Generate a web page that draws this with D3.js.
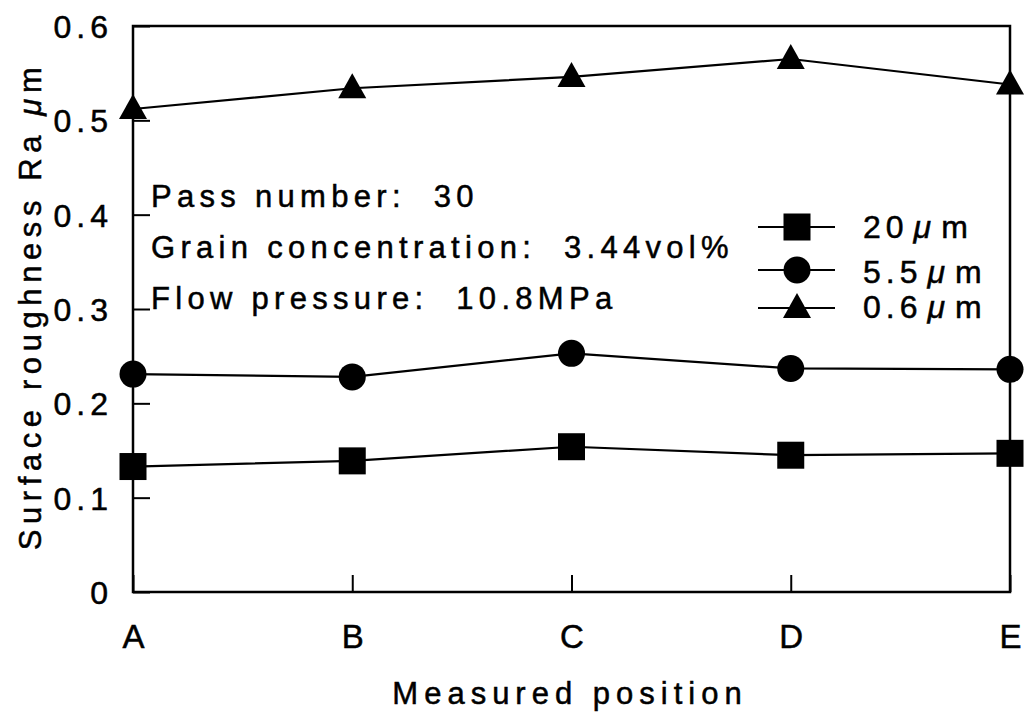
<!DOCTYPE html>
<html><head><meta charset="utf-8">
<script src="https://cdn.jsdelivr.net/npm/d3@7"></script>
<style>body{margin:0;background:#fff}svg{display:block}text{font-family:"Liberation Sans",Arial,sans-serif;fill:#000;white-space:pre;stroke:#000;stroke-width:0.5px}</style>
</head><body><svg id="c" width="1033" height="714"></svg>
<script>
const positions = ["A","B","C","D","E"];
const yTicks = [0,0.1,0.2,0.3,0.4,0.5,0.6];
const yTickLabels = ["0","0.1","0.2","0.3","0.4","0.5","0.6"];
const s20 = [0.133,0.139,0.154,0.145,0.147];
const s55 = [0.231,0.228,0.253,0.237,0.236];
const s06 = [0.512,0.534,0.546,0.565,0.538];
const seriesNames = ["20","5.5","0.6"];
const notes = ["Pass number:  30","Grain concentration:  3.44vol%","Flow pressure:  10.8MPa"];

const FONT = "Liberation Sans, Arial, sans-serif";
const svg = d3.select("#c");
const L=133,R=1010,T=26,B=592;
const x = d3.scalePoint().domain(positions).range([L,R]);
const y = d3.scaleLinear().domain([0,0.6]).range([B,T]);

svg.append("rect").attr("x",L).attr("y",T).attr("width",R-L).attr("height",B-T)
  .attr("fill","none").attr("stroke","#000").attr("stroke-width",2.5);

const ya = svg.append("g").attr("transform",`translate(${L},0)`)
  .call(d3.axisLeft(y).tickValues(yTicks).tickFormat((d,i)=>yTickLabels[i]).tickSizeInner(-17).tickSizeOuter(0).tickPadding(20));
ya.select(".domain").remove();
ya.selectAll("line").attr("stroke-width",2);
ya.selectAll("text").attr("font-size",32).attr("dy","0.36em").attr("font-family",FONT).attr("letter-spacing",5);

const xa = svg.append("g").attr("transform",`translate(0,${B})`)
  .call(d3.axisBottom(x).tickSizeInner(-17).tickSizeOuter(0).tickPadding(33));
xa.select(".domain").remove();
xa.selectAll("line").attr("stroke-width",2);
xa.selectAll("text").attr("font-size",33).attr("font-family",FONT);

svg.append("text").attr("x",570).attr("y",704).attr("text-anchor","middle").attr("font-size",31)
  .attr("letter-spacing",6).text("Measured position");
const yt = svg.append("text").attr("transform","translate(41,306) rotate(-90)").attr("text-anchor","middle")
  .attr("font-size",31).attr("letter-spacing",5.6);
yt.append("tspan").text("Surface roughness Ra ");
yt.append("tspan").attr("font-style","italic").text("μ");
yt.append("tspan").text("m");

const line = d3.line().x((d,i)=>x(positions[i])).y(d=>y(d));
const all = [s20,s55,s06];
all.forEach(s=>{
  svg.append("path").datum(s).attr("d",line).attr("fill","none").attr("stroke","#000").attr("stroke-width",2.2);
});
function marker(g,type,cx,cy){
  if(type===0) g.append("rect").attr("x",cx-13.5).attr("y",cy-13.5).attr("width",27).attr("height",27).attr("fill","#000");
  else if(type===1) g.append("circle").attr("cx",cx).attr("cy",cy).attr("r",13.5).attr("fill","#000");
  else g.append("path").attr("d",`M${cx},${cy-15}L${cx+14},${cy+10}L${cx-14},${cy+10}Z`).attr("fill","#000");
}
all.forEach((s,k)=>{
  const g = svg.append("g");
  s.forEach((v,i)=>marker(g,k,x(positions[i]),y(v)));
});

notes.forEach((t,i)=>{
  svg.append("text").attr("x",151).attr("y",207+i*51).attr("font-size",31).attr("letter-spacing",5.3).text(t);
});

const legY=[227,270,308];
const legTextY=[238,283,318];
seriesNames.forEach((n,k)=>{
  const g=svg.append("g");
  g.append("line").attr("x1",758).attr("x2",835).attr("y1",legY[k]).attr("y2",legY[k]).attr("stroke","#000").attr("stroke-width",2.2);
  marker(g,k,797,legY[k]);
  const t=g.append("text").attr("x",863).attr("y",legTextY[k]).attr("font-size",32).attr("letter-spacing",5);
  t.append("tspan").text(n);
  t.append("tspan").attr("font-style","italic").attr("dx",5).text("μ");
  t.append("tspan").attr("dx",5).text("m");
});
</script></body></html>
